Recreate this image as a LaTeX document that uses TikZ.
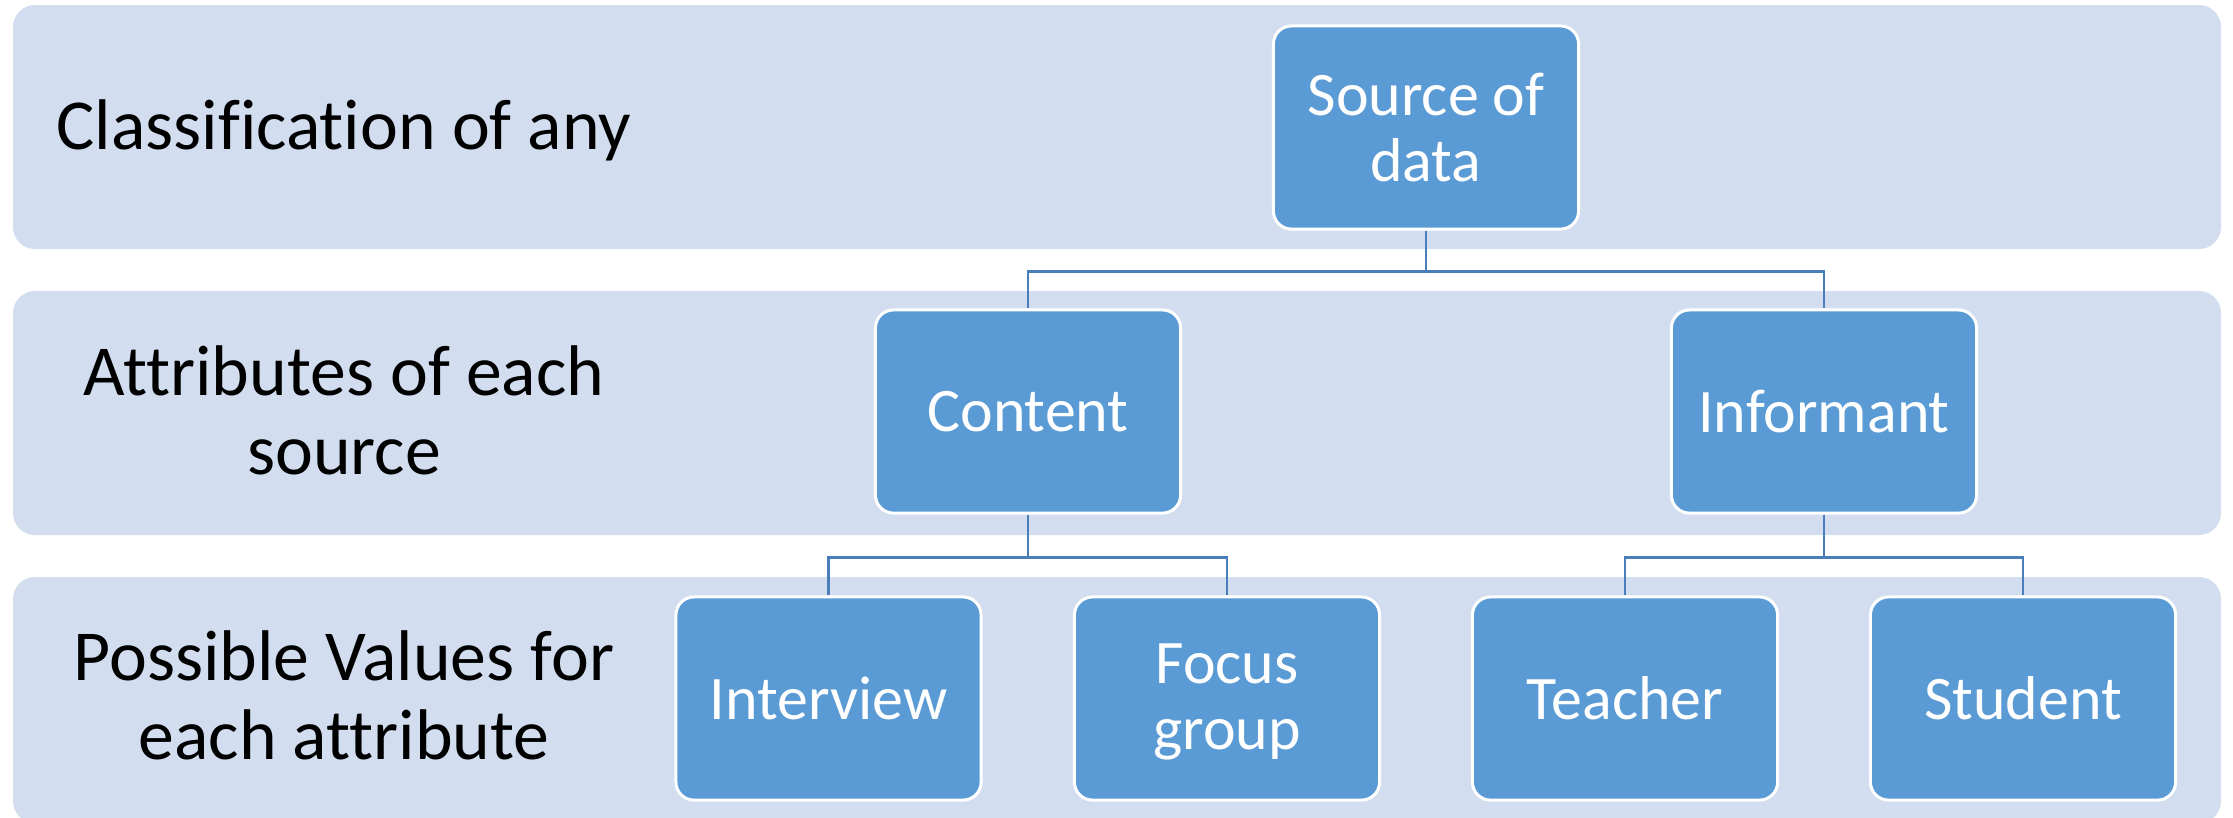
\documentclass[tikz,border=0pt]{standalone}
\usepackage{fontspec}
\setmainfont[Ligatures=NoCommon]{Carlito}
\definecolor{bandfill}{HTML}{D2DEEF}
\definecolor{boxfill}{HTML}{5B9BD5}
\definecolor{linkcol}{HTML}{4A7EBB}
\begin{document}
\begin{tikzpicture}[x=0.01cm,y=-0.01cm,
  band/.style={fill=bandfill,draw=none,rounded corners=0.22cm},
  rowlabel/.style={align=center,text=black,inner sep=0pt,
    font=\fontsize{20.4pt}{22.5pt}\selectfont},
  unitbox/.style={rectangle,fill=boxfill,draw=white,line width=0.03cm,
    rounded corners=0.18cm,minimum width=3.05cm,minimum height=2.03cm,
    inner sep=0pt,align=center,text=white,
    font=\fontsize{17.6pt}{18.8pt}\selectfont},
  link/.style={draw=linkcol,line width=0.028cm}]
\useasboundingbox (0,0) rectangle (2233,817);
\fill[white] (0,0) rectangle (2233,817);
% bands
\path[band] (13,5) rectangle (2221,249);
\path[band] (13,291) rectangle (2221,535);
\path[band] (13,577) rectangle (2221,823);
% row labels
\node[rowlabel] (l1) at (344,130) {Classification of any};
\node[rowlabel] (l2) at (344,410) {Attributes of each\\source};
\node[rowlabel] (l3) at (344,695) {Possible Values for\\each attribute};
% boxes
\node[unitbox] (src) at (1426,127.5) {Source of\\data};
\node[unitbox] (cont) at (1028,411.5) {Content};
\node[unitbox] (inf) at (1824,411.5) {Informant};
\node[unitbox] (intv) at (828.5,698.5) {Interview};
\node[unitbox,text depth=0.035cm] (foc) at (1227,698.5) {Focus\\group};
\node[unitbox] (tea) at (1625,698.5) {Teacher};
\node[unitbox] (stu) at (2023,698.5) {Student};
% connectors
\draw[link] (src.south) -- ++(0,41) -| (cont.north);
\draw[link] (src.south) -- ++(0,41) -| (inf.north);
\draw[link] (cont.south) -- ++(0,43) -| (intv.north);
\draw[link] (cont.south) -- ++(0,43) -| (foc.north);
\draw[link] (inf.south) -- ++(0,43) -| (tea.north);
\draw[link] (inf.south) -- ++(0,43) -| (stu.north);
\end{tikzpicture}
\end{document}
